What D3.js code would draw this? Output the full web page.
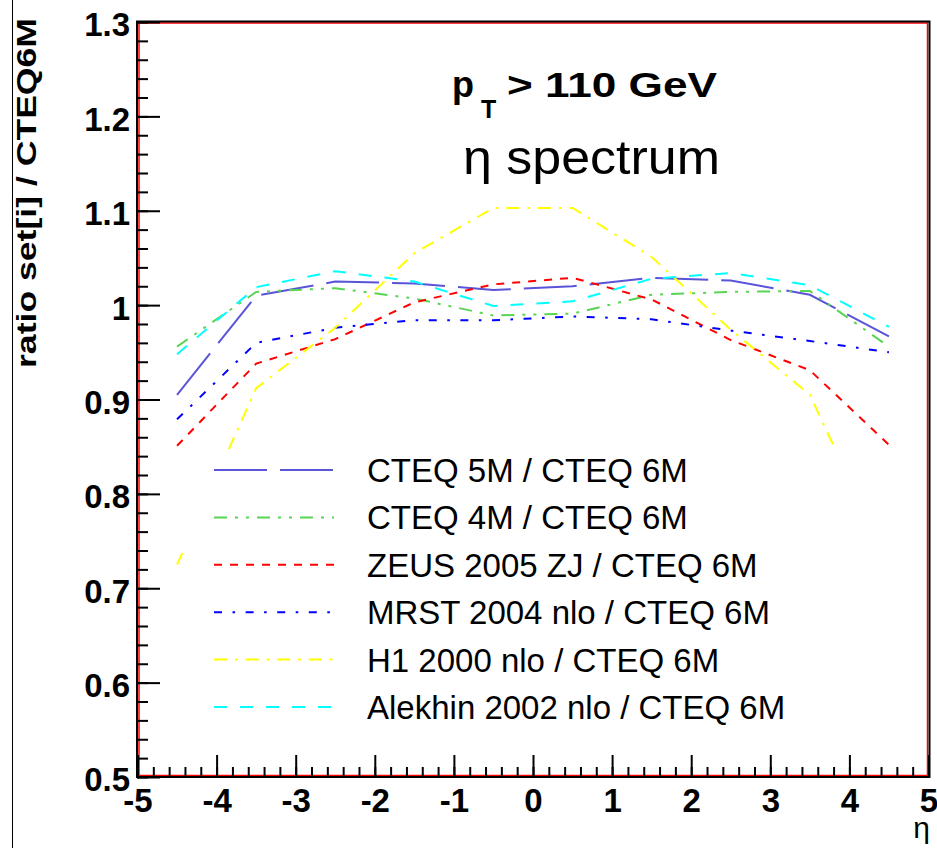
<!DOCTYPE html>
<html>
<head>
<meta charset="utf-8">
<script src="https://cdn.jsdelivr.net/npm/d3@7"></script>
<style>
  html, body { margin: 0; padding: 0; background: #fff; }
  svg { display: block; font-family: "Liberation Sans", Arial, Helvetica, sans-serif; }
</style>
</head>
<body>
<div id="chart"></div>
<script>
// eta bin centres
var etaBins = [-4.5, -3.5, -2.5, -1.5, -0.5, 0.5, 1.5, 2.5, 3.5, 4.5];

// ratio to CTEQ 6M
var cteq5m  = [0.905, 1.010, 1.025, 1.023, 1.016, 1.020, 1.029, 1.026, 1.011, 0.967];
var cteq4m  = [0.956, 1.014, 1.018, 1.007, 0.989, 0.991, 1.011, 1.014, 1.015, 0.956];
var zeus    = [0.851, 0.938, 0.964, 1.003, 1.022, 1.029, 1.006, 0.963, 0.931, 0.852];
var mrst    = [0.879, 0.960, 0.976, 0.984, 0.984, 0.988, 0.985, 0.973, 0.962, 0.950];
var h1      = [0.725, 0.912, 0.976, 1.055, 1.103, 1.103, 1.051, 0.974, 0.905, 0.725];
var alekhin = [0.948, 1.019, 1.036, 1.025, 0.999, 1.004, 1.028, 1.034, 1.021, 0.977];

var seriesNames = [
    "CTEQ 5M / CTEQ 6M",
    "CTEQ 4M / CTEQ 6M",
    "ZEUS 2005 ZJ / CTEQ 6M",
    "MRST 2004 nlo / CTEQ 6M",
    "H1 2000 nlo / CTEQ 6M",
    "Alekhin 2002 nlo / CTEQ 6M"
];

var xTicks = [-5, -4, -3, -2, -1, 0, 1, 2, 3, 4, 5];
var yTicks = [0.5, 0.6, 0.7, 0.8, 0.9, 1, 1.1, 1.2, 1.3];

var W = 937, H = 848;

// ROOT-like line styles
var styles = [
    { color: "#5954d8", dash: "53 13" },
    { color: "#59d454", dash: "13 8 3 8 3 8" },
    { color: "#ff0000", dash: "8 8" },
    { color: "#0000ff", dash: "8 10.5 2.6 10.5" },
    { color: "#ffff00", dash: "13 8 2.6 8" },
    { color: "#00ffff", dash: "13 13" }
];
var allSeries = [cteq5m, cteq4m, zeus, mrst, h1, alekhin];

var svg = d3.select("#chart").append("svg")
    .attr("width", W)
    .attr("height", H);

svg.append("rect").attr("width", W).attr("height", H).attr("fill", "#fff");

// thin canvas edge on the left
svg.append("line")
    .attr("x1", 12.5).attr("x2", 12.5)
    .attr("y1", 0).attr("y2", H)
    .attr("stroke", "#000").attr("stroke-width", 1);

var x = d3.scaleLinear().domain([-5, 5]).range([137.5, 928.5]);
var y = d3.scaleLinear().domain([0.5, 1.3]).range([777, 22]);

// curves
var line = d3.line()
    .x(function(d) { return x(d[0]); })
    .y(function(d) { return y(d[1]); });

var curves = svg.append("g").attr("class", "curves");
allSeries.forEach(function(vals, i) {
    var pts = etaBins.map(function(e, j) { return [e, vals[j]]; });
    curves.append("path")
        .datum(pts)
        .attr("d", line)
        .attr("fill", "none")
        .attr("stroke", styles[i].color)
        .attr("stroke-width", 2)
        .attr("stroke-dasharray", styles[i].dash);
});

// legend (white box hides the curves behind it)
var legend = svg.append("g").attr("class", "legend");
legend.append("rect")
    .attr("x", 184).attr("y", 450)
    .attr("width", 712).attr("height", 286)
    .attr("fill", "#fff");

var rowY = d3.scaleLinear().domain([0, 5]).range([470, 707]);
seriesNames.forEach(function(name, i) {
    var yy = rowY(i);
    legend.append("line")
        .attr("x1", 214).attr("x2", 334)
        .attr("y1", yy).attr("y2", yy)
        .attr("stroke", styles[i].color)
        .attr("stroke-width", 2)
        .attr("stroke-dasharray", styles[i].dash);
    legend.append("text")
        .attr("x", 367).attr("y", yy + 12)
        .attr("font-size", 33)
        .text(name);
});

// frame: red box with black axis box around it
svg.append("rect")
    .attr("x", 139).attr("y", 23)
    .attr("width", 788.5).attr("height", 752.5)
    .attr("fill", "none").attr("stroke", "#ff0000").attr("stroke-width", 1.5);
svg.append("rect")
    .attr("x", 137).attr("y", 21.5)
    .attr("width", 792.5).attr("height", 755.5)
    .attr("fill", "none").attr("stroke", "#000").attr("stroke-width", 2);

// plain hyphen for negatives, like the original
var plainFmt = function(d) { return String(d); };

// y axis, ticks pointing inward
var yMinor = d3.range(0, 41).map(function(i) { return 0.5 + i * 0.02; });
svg.append("g")
    .attr("transform", "translate(137,0)")
    .call(d3.axisLeft(y).tickValues(yMinor).tickSize(-11).tickFormat(""))
    .call(function(g) { g.select(".domain").remove(); })
    .selectAll("line").attr("stroke", "#000").attr("stroke-width", 2);

var yAxis = svg.append("g")
    .attr("transform", "translate(137,0)")
    .call(d3.axisLeft(y).tickValues(yTicks).tickSize(-23).tickPadding(7)
        .tickFormat(plainFmt));
yAxis.select(".domain").remove();
yAxis.selectAll("line").attr("stroke", "#000").attr("stroke-width", 2);
yAxis.selectAll("text")
    .attr("font-size", 33).attr("font-weight", "bold")
    .attr("font-family", "Liberation Sans, Arial, sans-serif")
    .attr("fill", "#000").attr("dy", "0.42em");

// x axis
var xMinor = d3.range(0, 51).map(function(i) { return -5 + i * 0.2; });
svg.append("g")
    .attr("transform", "translate(0,777)")
    .call(d3.axisBottom(x).tickValues(xMinor).tickSize(-10).tickFormat(""))
    .call(function(g) { g.select(".domain").remove(); })
    .selectAll("line").attr("stroke", "#000").attr("stroke-width", 2);

var xAxis = svg.append("g")
    .attr("transform", "translate(0,777)")
    .call(d3.axisBottom(x).tickValues(xTicks).tickSize(-22).tickPadding(12)
        .tickFormat(plainFmt));
xAxis.select(".domain").remove();
xAxis.selectAll("line").attr("stroke", "#000").attr("stroke-width", 2);
xAxis.selectAll("text")
    .attr("font-size", 33).attr("font-weight", "bold")
    .attr("font-family", "Liberation Sans, Arial, sans-serif")
    .attr("fill", "#000");

// axis titles
svg.append("text")
    .attr("transform", "translate(36,18) rotate(-90)")
    .attr("text-anchor", "end")
    .attr("font-size", 28).attr("font-weight", "bold")
    .attr("textLength", 350).attr("lengthAdjust", "spacingAndGlyphs")
    .text("ratio set[i] / CTEQ6M");

svg.append("text")
    .attr("x", 930).attr("y", 838)
    .attr("text-anchor", "end")
    .attr("font-size", 30)
    .text("η");

// in-plot labels
var title = svg.append("g");
title.append("text")
    .attr("x", 452).attr("y", 97)
    .attr("font-size", 36).attr("font-weight", "bold")
    .text("p");
title.append("text")
    .attr("x", 481).attr("y", 118)
    .attr("font-size", 25).attr("font-weight", "bold")
    .text("T");
title.append("text")
    .attr("x", 507).attr("y", 97)
    .attr("font-size", 35).attr("font-weight", "bold")
    .attr("textLength", 210).attr("lengthAdjust", "spacingAndGlyphs")
    .text("> 110 GeV");

svg.append("text")
    .attr("x", 463).attr("y", 174)
    .attr("font-size", 48)
    .attr("textLength", 257).attr("lengthAdjust", "spacingAndGlyphs")
    .text("η spectrum");
</script>
</body>
</html>
